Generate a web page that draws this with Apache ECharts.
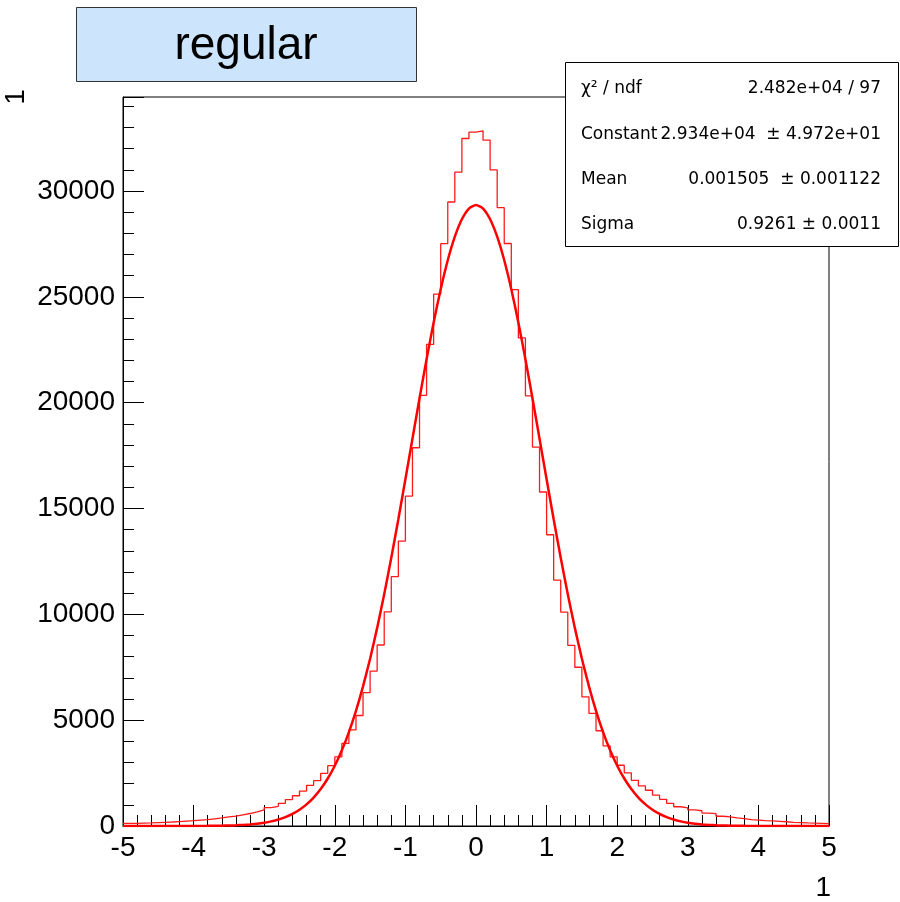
<!DOCTYPE html>
<html><head><meta charset="utf-8">
<script src="https://cdn.jsdelivr.net/npm/echarts@6/dist/echarts.min.js"></script>
<style>html,body{margin:0;padding:0;background:#fff}#c{width:900px;height:902px}</style>
</head><body><div id="c"></div>
<script>
// Histogram: 100 bins from -5 to 5
const xMin = -5, xMax = 5, binWidth = 0.1;
const yMax = 34440;
const counts = [
  120,125,135,145,160,175,190,210,230,250,
  280,300,340,380,430,470,530,590,670,760,
  870,930,1070,1250,1430,1650,1920,2140,2490,2850,
  3270,3900,4540,5220,6300,7320,8550,10120,11780,13460,
  15580,17870,20340,22750,25130,27510,29480,30890,32480,32780,
  32840,32400,31000,29210,27520,25340,23060,20320,17900,15780,
  13760,11620,10100,8530,7500,6100,5320,4500,3790,3270,
  2870,2510,2160,1900,1690,1460,1260,1070,910,860,
  760,720,610,580,460,430,380,350,300,280,
  250,240,220,200,170,160,145,135,125,115
];
// Fit curve values read at x = -5.0, -4.9, ..., 5.0
const fitValues = [
  0,0,0,0,0,0,0,0,1,2,
  3,4,6,10,15,23,35,51,75,108,
  154,218,304,419,570,767,1021,1343,1746,2244,
  2849,3577,4437,5442,6597,7903,9359,10954,12673,14491,
  16379,18297,20203,22051,23786,25361,26727,27840,28664,29170,
  29340,
  29170,28664,27840,26727,25361,23786,22051,20203,18297,16379,
  14491,12673,10954,9359,7903,6597,5442,4437,3577,2849,
  2244,1746,1343,1021,767,570,419,304,218,154,
  108,75,51,35,23,15,10,6,4,3,
  2,1,0,0,0,0,0,0,0,0
];
const titleText = 'regular';
const statsLabels = ['χ² / ndf', 'Constant', 'Mean', 'Sigma'];
const statsValues = ['2.482e+04 / 97', '2.934e+04  ± 4.972e+01', '0.001505  ± 0.001122', '0.9261 ± 0.0011'];
const xTitle = '1', yTitle = '1';

const histData = counts.map((c, i) => [+(xMin + i * binWidth).toFixed(2), c]);
histData.push([xMax, counts[counts.length - 1]]);
const fitData = fitValues.map((v, i) => [+(xMin + i * binWidth).toFixed(2), v]);

const FONT = 'Liberation Sans, Arial, sans-serif';
const SFONT = '17px "DejaVu Sans", sans-serif';
const chart = echarts.init(document.getElementById('c'), null, {renderer: 'canvas'});

const statsGraphics = [];
statsLabels.forEach((t, i) => {
  const yc = 89 + i * 45.3;
  statsGraphics.push({type: 'text', x: 581, y: yc, style: {text: t, font: SFONT, fill: '#000', textAlign: 'left', textVerticalAlign: 'middle'}, z: 101});
  statsGraphics.push({type: 'text', x: 881, y: yc, style: {text: statsValues[i], font: SFONT, fill: '#000', textAlign: 'right', textVerticalAlign: 'middle'}, z: 101});
});

chart.setOption({
  animation: false,
  backgroundColor: '#fff',
  grid: {left: 123, right: 71, top: 97, bottom: 76, show: true, borderColor: '#000', borderWidth: 1, outerBoundsMode: 'none', containLabel: false},
  xAxis: [
    {type: 'value', min: xMin, max: xMax, interval: 1, position: 'bottom',
     axisLine: {show: true, onZero: false, lineStyle: {color: '#000', width: 1}},
     axisTick: {show: true, inside: true, length: 21, lineStyle: {color: '#000'}},
     axisLabel: {show: true, fontSize: 28, fontFamily: FONT, color: '#000', margin: 8},
     splitLine: {show: false}},
    {type: 'value', min: xMin, max: xMax, interval: 0.2, position: 'bottom',
     axisLine: {show: false, onZero: false},
     axisTick: {show: true, inside: true, length: 11, lineStyle: {color: '#000'}},
     axisLabel: {show: false}, splitLine: {show: false}}
  ],
  yAxis: [
    {type: 'value', min: 0, max: yMax, interval: 5000, position: 'left',
     axisLine: {show: true, onZero: false, lineStyle: {color: '#000', width: 1}},
     axisTick: {show: true, inside: true, length: 21, lineStyle: {color: '#000'}},
     axisLabel: {show: true, fontSize: 28, fontFamily: FONT, color: '#000', margin: 8,
                 formatter: v => (v % 5000 === 0 ? String(v) : '')},
     splitLine: {show: false}},
    {type: 'value', min: 0, max: yMax, interval: 1000, position: 'left',
     axisLine: {show: false, onZero: false},
     axisTick: {show: true, inside: true, length: 11, lineStyle: {color: '#000'}},
     axisLabel: {show: false}, splitLine: {show: false}}
  ],
  series: [
    {type: 'line', name: 'hist', xAxisIndex: 0, yAxisIndex: 0, data: histData, step: 'end',
     showSymbol: false, symbol: 'none', lineStyle: {color: '#ff1a1a', width: 1.3}, z: 3},
    {type: 'line', name: 'fit', xAxisIndex: 0, yAxisIndex: 0, data: fitData, smooth: 0.2,
     showSymbol: false, symbol: 'none', lineStyle: {color: '#ff0000', width: 2.5}, z: 4}
  ],
  graphic: [
    {type: 'rect', shape: {x: 76.5, y: 7.5, width: 340, height: 74}, style: {fill: '#cce5fc', stroke: '#333', lineWidth: 1}, z: 100},
    {type: 'text', x: 246, y: 46, style: {text: titleText, font: '46px ' + FONT, fill: '#000', textAlign: 'center', textVerticalAlign: 'middle'}, z: 101},
    {type: 'rect', shape: {x: 565.5, y: 62.5, width: 333, height: 184}, style: {fill: '#fff', stroke: '#000', lineWidth: 1}, z: 100},
    ...statsGraphics,
    {type: 'text', x: 831, y: 888, style: {text: xTitle, font: '28px ' + FONT, fill: '#000', textAlign: 'right', textVerticalAlign: 'middle'}, z: 101},
    {type: 'text', x: 16, y: 97, rotation: Math.PI / 2, style: {text: yTitle, font: '28px ' + FONT, fill: '#000', textAlign: 'center', textVerticalAlign: 'middle'}, z: 101}
  ]
});
</script></body></html>
